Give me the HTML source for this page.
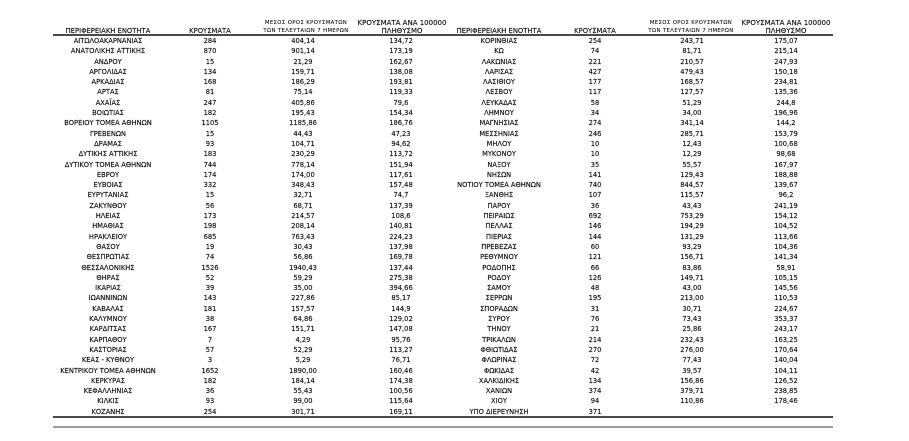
<!DOCTYPE html>
<html><head><meta charset="utf-8">
<style>
html,body{margin:0;padding:0;background:#fff;}
body{width:909px;height:441px;position:relative;overflow:hidden;font-family:"DejaVu Sans","Liberation Sans",sans-serif;color:#111;-webkit-text-stroke:0.15px #111;}
.h{position:absolute;text-align:center;line-height:10px;height:10px;white-space:nowrap;font-size:6.8px;}
.s{font-size:5.3px;letter-spacing:0.4px;-webkit-text-stroke:0.1px #111;}
.b{font-size:7px;}
.rule{position:absolute;left:53px;width:780px;}
#tbl{position:absolute;left:53px;top:36px;width:780px;}
.r{display:flex;height:10.3px;line-height:10.3px;font-size:6.7px;white-space:nowrap;}
.r span{display:block;text-align:center;overflow:visible;}
.r span:nth-child(1){width:110px}
.r span:nth-child(2){width:94px}
.r span:nth-child(3){width:92px}
.r span:nth-child(4){width:104px}
.r span:nth-child(5){width:92px}
.r span:nth-child(6){width:100px}
.r span:nth-child(7){width:94px}
.r span:nth-child(8){width:94px}
</style></head><body>

<div class="h" style="left:53px;width:110px;top:26px;">ΠΕΡΙΦΕΡΕΙΑΚΗ ΕΝΟΤΗΤΑ</div>
<div class="h" style="left:163px;width:94px;top:26px;">ΚΡΟΥΣΜΑΤΑ</div>
<div class="h s" style="left:243px;width:126px;top:18.3px;">ΜΕΣΟΣ ΟΡΟΣ ΚΡΟΥΣΜΑΤΩΝ</div>
<div class="h s" style="left:243px;width:126px;top:26.3px;">ΤΩΝ ΤΕΛΕΥΤΑΙΩΝ 7 ΗΜΕΡΩΝ</div>
<div class="h b" style="left:352px;width:100px;top:17.7px;">ΚΡΟΥΣΜΑΤΑ ΑΝΑ 100000</div>
<div class="h b" style="left:352px;width:100px;top:25.7px;">ΠΛΗΘΥΣΜΟ</div>

<div class="h" style="left:453px;width:92px;top:26px;">ΠΕΡΙΦΕΡΕΙΑΚΗ ΕΝΟΤΗΤΑ</div>
<div class="h" style="left:545px;width:100px;top:26px;">ΚΡΟΥΣΜΑΤΑ</div>
<div class="h s" style="left:628px;width:126px;top:18.3px;">ΜΕΣΟΣ ΟΡΟΣ ΚΡΟΥΣΜΑΤΩΝ</div>
<div class="h s" style="left:628px;width:126px;top:26.3px;">ΤΩΝ ΤΕΛΕΥΤΑΙΩΝ 7 ΗΜΕΡΩΝ</div>
<div class="h b" style="left:736px;width:100px;top:17.7px;">ΚΡΟΥΣΜΑΤΑ ΑΝΑ 100000</div>
<div class="h b" style="left:736px;width:100px;top:25.7px;">ΠΛΗΘΥΣΜΟ</div>

<div class="rule" style="top:34px;height:1.6px;background:#4a4a4a;"></div>
<div class="rule" style="top:416.2px;height:1.5px;background:#4a4a4a;"></div>
<div class="rule" style="top:426.1px;height:1.6px;background:#9a9a9a;"></div>

<div id="tbl">
<div class="r"><span>ΑΙΤΩΛΟΑΚΑΡΝΑΝΙΑΣ</span><span>284</span><span>404,14</span><span>134,72</span><span>ΚΟΡΙΝΘΙΑΣ</span><span>254</span><span>243,71</span><span>175,07</span></div>
<div class="r"><span>ΑΝΑΤΟΛΙΚΗΣ ΑΤΤΙΚΗΣ</span><span>870</span><span>901,14</span><span>173,19</span><span>ΚΩ</span><span>74</span><span>81,71</span><span>215,14</span></div>
<div class="r"><span>ΑΝΔΡΟΥ</span><span>15</span><span>21,29</span><span>162,67</span><span>ΛΑΚΩΝΙΑΣ</span><span>221</span><span>210,57</span><span>247,93</span></div>
<div class="r"><span>ΑΡΓΟΛΙΔΑΣ</span><span>134</span><span>159,71</span><span>138,08</span><span>ΛΑΡΙΣΑΣ</span><span>427</span><span>479,43</span><span>150,18</span></div>
<div class="r"><span>ΑΡΚΑΔΙΑΣ</span><span>168</span><span>186,29</span><span>193,81</span><span>ΛΑΣΙΘΙΟΥ</span><span>177</span><span>168,57</span><span>234,81</span></div>
<div class="r"><span>ΑΡΤΑΣ</span><span>81</span><span>75,14</span><span>119,33</span><span>ΛΕΣΒΟΥ</span><span>117</span><span>127,57</span><span>135,36</span></div>
<div class="r"><span>ΑΧΑΪΑΣ</span><span>247</span><span>405,86</span><span>79,6</span><span>ΛΕΥΚΑΔΑΣ</span><span>58</span><span>51,29</span><span>244,8</span></div>
<div class="r"><span>ΒΟΙΩΤΙΑΣ</span><span>182</span><span>195,43</span><span>154,34</span><span>ΛΗΜΝΟΥ</span><span>34</span><span>34,00</span><span>196,96</span></div>
<div class="r"><span>ΒΟΡΕΙΟΥ ΤΟΜΕΑ ΑΘΗΝΩΝ</span><span>1105</span><span>1185,86</span><span>186,76</span><span>ΜΑΓΝΗΣΙΑΣ</span><span>274</span><span>341,14</span><span>144,2</span></div>
<div class="r"><span>ΓΡΕΒΕΝΩΝ</span><span>15</span><span>44,43</span><span>47,23</span><span>ΜΕΣΣΗΝΙΑΣ</span><span>246</span><span>285,71</span><span>153,79</span></div>
<div class="r"><span>ΔΡΑΜΑΣ</span><span>93</span><span>104,71</span><span>94,62</span><span>ΜΗΛΟΥ</span><span>10</span><span>12,43</span><span>100,68</span></div>
<div class="r"><span>ΔΥΤΙΚΗΣ ΑΤΤΙΚΗΣ</span><span>183</span><span>230,29</span><span>113,72</span><span>ΜΥΚΟΝΟΥ</span><span>10</span><span>12,29</span><span>98,68</span></div>
<div class="r"><span>ΔΥΤΙΚΟΥ ΤΟΜΕΑ ΑΘΗΝΩΝ</span><span>744</span><span>778,14</span><span>151,94</span><span>ΝΑΞΟΥ</span><span>35</span><span>55,57</span><span>167,97</span></div>
<div class="r"><span>ΕΒΡΟΥ</span><span>174</span><span>174,00</span><span>117,61</span><span>ΝΗΣΩΝ</span><span>141</span><span>129,43</span><span>188,88</span></div>
<div class="r"><span>ΕΥΒΟΙΑΣ</span><span>332</span><span>348,43</span><span>157,48</span><span>ΝΟΤΙΟΥ ΤΟΜΕΑ ΑΘΗΝΩΝ</span><span>740</span><span>844,57</span><span>139,67</span></div>
<div class="r"><span>ΕΥΡΥΤΑΝΙΑΣ</span><span>15</span><span>32,71</span><span>74,7</span><span>ΞΑΝΘΗΣ</span><span>107</span><span>115,57</span><span>96,2</span></div>
<div class="r"><span>ΖΑΚΥΝΘΟΥ</span><span>56</span><span>68,71</span><span>137,39</span><span>ΠΑΡΟΥ</span><span>36</span><span>43,43</span><span>241,19</span></div>
<div class="r"><span>ΗΛΕΙΑΣ</span><span>173</span><span>214,57</span><span>108,6</span><span>ΠΕΙΡΑΙΩΣ</span><span>692</span><span>753,29</span><span>154,12</span></div>
<div class="r"><span>ΗΜΑΘΙΑΣ</span><span>198</span><span>208,14</span><span>140,81</span><span>ΠΕΛΛΑΣ</span><span>146</span><span>194,29</span><span>104,52</span></div>
<div class="r"><span>ΗΡΑΚΛΕΙΟΥ</span><span>685</span><span>763,43</span><span>224,23</span><span>ΠΙΕΡΙΑΣ</span><span>144</span><span>131,29</span><span>113,66</span></div>
<div class="r"><span>ΘΑΣΟΥ</span><span>19</span><span>30,43</span><span>137,98</span><span>ΠΡΕΒΕΖΑΣ</span><span>60</span><span>93,29</span><span>104,36</span></div>
<div class="r"><span>ΘΕΣΠΡΩΤΙΑΣ</span><span>74</span><span>56,86</span><span>169,78</span><span>ΡΕΘΥΜΝΟΥ</span><span>121</span><span>156,71</span><span>141,34</span></div>
<div class="r"><span>ΘΕΣΣΑΛΟΝΙΚΗΣ</span><span>1526</span><span>1940,43</span><span>137,44</span><span>ΡΟΔΟΠΗΣ</span><span>66</span><span>83,86</span><span>58,91</span></div>
<div class="r"><span>ΘΗΡΑΣ</span><span>52</span><span>59,29</span><span>275,38</span><span>ΡΟΔΟΥ</span><span>126</span><span>149,71</span><span>105,15</span></div>
<div class="r"><span>ΙΚΑΡΙΑΣ</span><span>39</span><span>35,00</span><span>394,66</span><span>ΣΑΜΟΥ</span><span>48</span><span>43,00</span><span>145,56</span></div>
<div class="r"><span>ΙΩΑΝΝΙΝΩΝ</span><span>143</span><span>227,86</span><span>85,17</span><span>ΣΕΡΡΩΝ</span><span>195</span><span>213,00</span><span>110,53</span></div>
<div class="r"><span>ΚΑΒΑΛΑΣ</span><span>181</span><span>157,57</span><span>144,9</span><span>ΣΠΟΡΑΔΩΝ</span><span>31</span><span>30,71</span><span>224,67</span></div>
<div class="r"><span>ΚΑΛΥΜΝΟΥ</span><span>38</span><span>64,86</span><span>129,02</span><span>ΣΥΡΟΥ</span><span>76</span><span>73,43</span><span>353,37</span></div>
<div class="r"><span>ΚΑΡΔΙΤΣΑΣ</span><span>167</span><span>151,71</span><span>147,08</span><span>ΤΗΝΟΥ</span><span>21</span><span>25,86</span><span>243,17</span></div>
<div class="r"><span>ΚΑΡΠΑΘΟΥ</span><span>7</span><span>4,29</span><span>95,76</span><span>ΤΡΙΚΑΛΩΝ</span><span>214</span><span>232,43</span><span>163,25</span></div>
<div class="r"><span>ΚΑΣΤΟΡΙΑΣ</span><span>57</span><span>52,29</span><span>113,27</span><span>ΦΘΙΩΤΙΔΑΣ</span><span>270</span><span>276,00</span><span>170,64</span></div>
<div class="r"><span>ΚΕΑΣ - ΚΥΘΝΟΥ</span><span>3</span><span>5,29</span><span>76,71</span><span>ΦΛΩΡΙΝΑΣ</span><span>72</span><span>77,43</span><span>140,04</span></div>
<div class="r"><span>ΚΕΝΤΡΙΚΟΥ ΤΟΜΕΑ ΑΘΗΝΩΝ</span><span>1652</span><span>1890,00</span><span>160,46</span><span>ΦΩΚΙΔΑΣ</span><span>42</span><span>39,57</span><span>104,11</span></div>
<div class="r"><span>ΚΕΡΚΥΡΑΣ</span><span>182</span><span>184,14</span><span>174,38</span><span>ΧΑΛΚΙΔΙΚΗΣ</span><span>134</span><span>156,86</span><span>126,52</span></div>
<div class="r"><span>ΚΕΦΑΛΛΗΝΙΑΣ</span><span>36</span><span>55,43</span><span>100,56</span><span>ΧΑΝΙΩΝ</span><span>374</span><span>379,71</span><span>238,85</span></div>
<div class="r"><span>ΚΙΛΚΙΣ</span><span>93</span><span>99,00</span><span>115,64</span><span>ΧΙΟΥ</span><span>94</span><span>110,86</span><span>178,46</span></div>
<div class="r"><span>ΚΟΖΑΝΗΣ</span><span>254</span><span>301,71</span><span>169,11</span><span>ΥΠΟ ΔΙΕΡΕΥΝΗΣΗ</span><span>371</span><span></span><span></span></div>
</div>

</body></html>
